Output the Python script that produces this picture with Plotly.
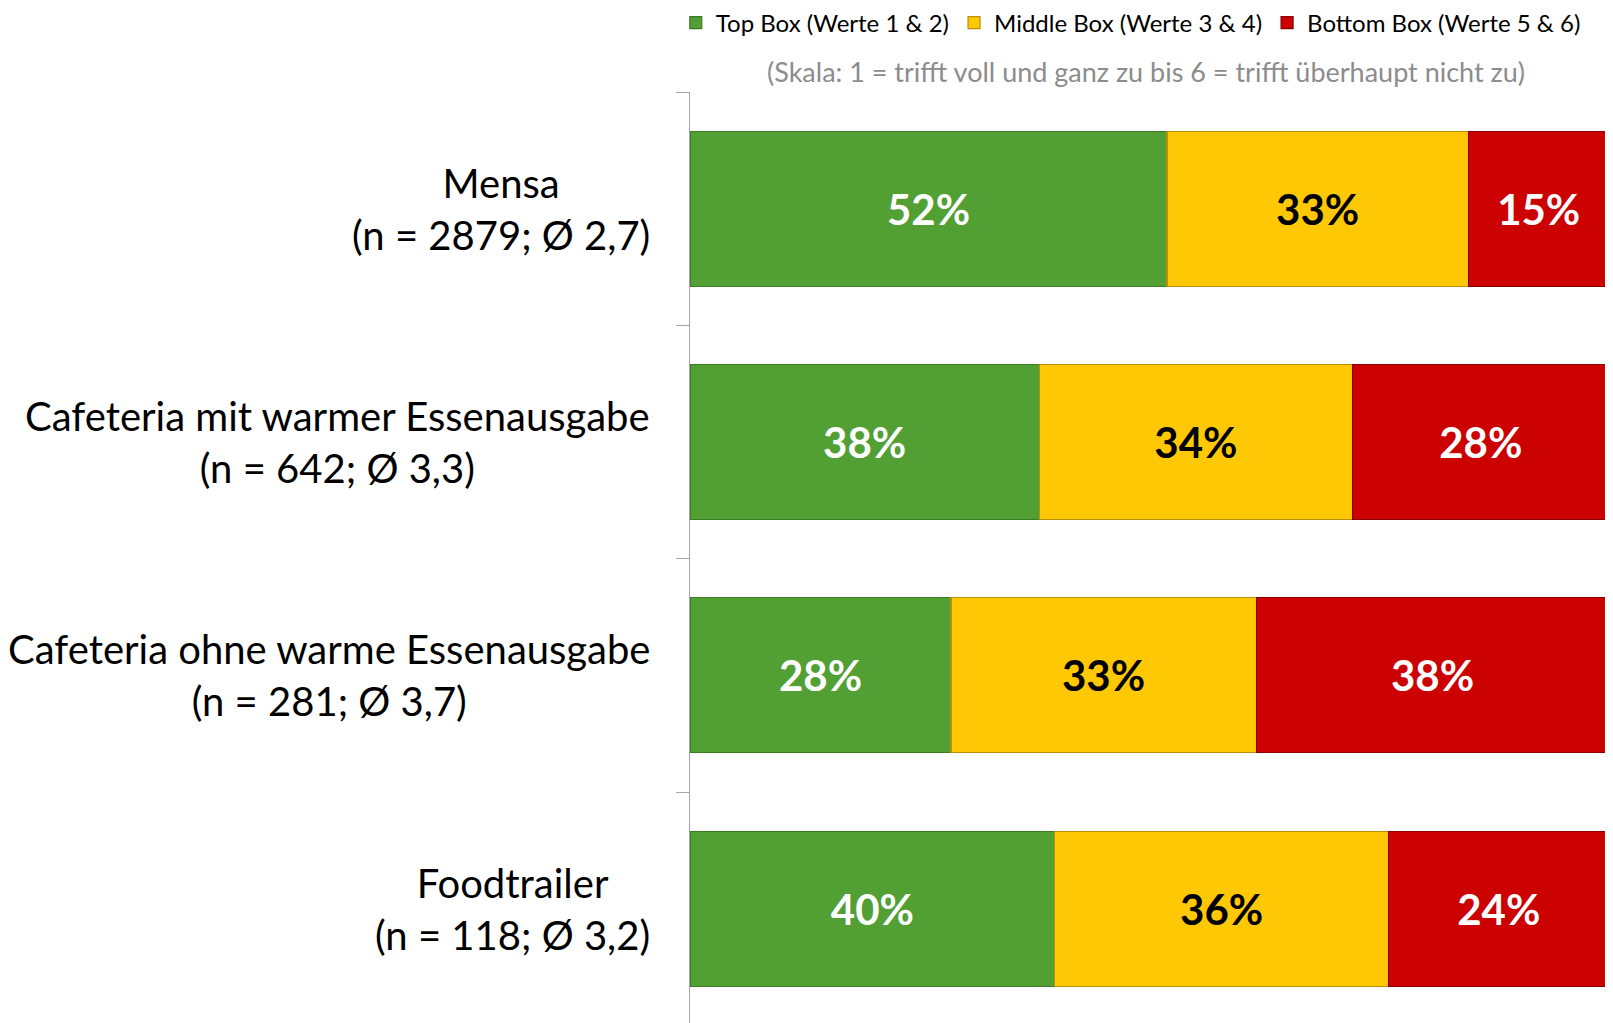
import plotly.graph_objects as go

categories = ["Mensa", "Cafeteria mit warmer Essenausgabe", "Cafeteria ohne warme Essenausgabe", "Foodtrailer"]
stats = ["(n = 2879; Ø 2,7)", "(n = 642; Ø 3,3)", "(n = 281; Ø 3,7)", "(n = 118; Ø 3,2)"]
top_box = [51.9, 38.0, 28.4, 39.7]
middle_box = [32.8, 34.1, 33.2, 36.3]
bottom_box = [15.3, 27.9, 38.4, 24.0]
series_names = ["Top Box (Werte 1 & 2)", "Middle Box (Werte 3 & 4)", "Bottom Box (Werte 5 & 6)"]
subtitle = "(Skala: 1 = trifft voll und ganz zu bis 6 = trifft überhaupt nicht zu)"

colors = ["#52A034", "#FFC805", "#CC0202"]
edge_colors = ["#3C7A26", "#B89008", "#8A0000"]
text_colors = ["white", "black", "white"]

fig = go.Figure()
for name, vals, c, ec, tc in zip(series_names, [top_box, middle_box, bottom_box], colors, edge_colors, text_colors):
    fig.add_trace(go.Bar(
        y=categories, x=vals, name=name, orientation="h",
        marker=dict(color=c, line=dict(color=ec, width=1.2)),
        texttemplate="%{x:.0f}%", textposition="inside", insidetextanchor="middle",
        textfont=dict(family="Lato", size=42, color=tc, weight="bold"),
        constraintext="none",
    ))

for cat, st in zip(categories, stats):
    fig.add_annotation(
        x=0, xref="paper", xanchor="right", xshift=-38,
        y=cat, yref="y", yanchor="middle",
        text=cat + "<br>" + st, align="center", showarrow=False,
        font=dict(family="Lato", size=40, color="black"),
    )

fig.add_annotation(
    x=0.496, xref="paper", xanchor="center",
    y=1.0215, yref="paper", yanchor="middle",
    text=subtitle, showarrow=False,
    font=dict(family="Lato", size=27, color="#8C8C8C"),
)

fig.update_layout(
    width=1613, height=1023,
    barmode="stack", bargap=0.336,
    plot_bgcolor="white", paper_bgcolor="white",
    margin=dict(l=682, r=12, t=84, b=8),
    showlegend=True,
    legend=dict(
        orientation="h", xref="container", yref="container",
        x=0.414, xanchor="left", y=0.9853, yanchor="middle",
        font=dict(family="Lato", size=24, color="black"),
        itemclick=False, traceorder="normal",
    ),
    xaxis=dict(range=[0, 100], visible=False, fixedrange=True),
    yaxis=dict(
        type="category", categoryorder="array", categoryarray=categories,
        range=[3.49, -0.5], showticklabels=False,
        ticks="outside", ticklen=13, tickcolor="#A6A6A6", tickson="boundaries",
        showline=True, linecolor="#A6A6A6", linewidth=1.2, showgrid=False, zeroline=False,
    ),
)

fig.write_html("out.html")
